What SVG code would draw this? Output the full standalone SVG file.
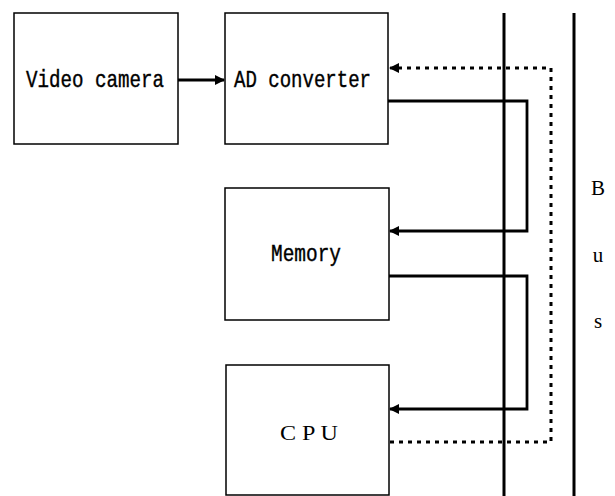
<svg xmlns="http://www.w3.org/2000/svg" width="615" height="496" viewBox="0 0 615 496">
<defs>
<style>
.box{fill:#fff;stroke:#000;stroke-width:1.5}
.lbl{font-family:"Liberation Mono","DejaVu Sans Mono",monospace;font-size:24px;fill:#000;stroke:#000;stroke-width:0.4}
.ser{font-family:"Liberation Serif","DejaVu Serif",serif;fill:#000}
.bus{stroke:#000;stroke-width:3;fill:none}
.con{stroke:#000;stroke-width:2.8;fill:none}
.dot{stroke:#000;stroke-width:3;fill:none;stroke-dasharray:4 5}
</style>
<marker id="ah" viewBox="0 0 10 10" refX="9" refY="5" markerWidth="10" markerHeight="10" markerUnits="userSpaceOnUse" orient="auto">
<path d="M0,0 L10,5 L0,10 z" fill="#000"/>
</marker>
</defs>
<rect width="615" height="496" fill="#fff"/>
<g id="bus">
<line class="bus" x1="504" y1="13" x2="504" y2="496"/>
<line class="bus" x1="574" y1="13" x2="574" y2="496"/>
<text class="ser" font-size="21" x="598" y="195" text-anchor="middle">B</text>
<text class="ser" font-size="21" x="598" y="262" text-anchor="middle">u</text>
<text class="ser" font-size="21" x="598" y="328" text-anchor="middle">s</text>
</g>
<g id="video-camera">
<rect class="box" x="14" y="13" width="164" height="131"/>
<text class="lbl" x="26" y="87" textLength="138" lengthAdjust="spacingAndGlyphs">Video camera</text>
</g>
<g id="ad-converter">
<rect class="box" x="225" y="13" width="163" height="131"/>
<text class="lbl" x="234" y="87" textLength="137" lengthAdjust="spacingAndGlyphs">AD converter</text>
</g>
<g id="memory">
<rect class="box" x="225" y="188" width="164" height="132"/>
<text class="lbl" x="271" y="261" textLength="70" lengthAdjust="spacingAndGlyphs">Memory</text>
</g>
<g id="cpu">
<rect class="box" x="226" y="365" width="163" height="130"/>
<text class="ser" font-size="22" x="280" y="440" textLength="58" lengthAdjust="spacingAndGlyphs">C P U</text>
</g>
<g id="connectors">
<path class="con" d="M178,80 H224" marker-end="url(#ah)"/>
<path class="con" d="M388,101 H527 V231 H390" marker-end="url(#ah)"/>
<path class="con" d="M389,276 H527 V409 H390" marker-end="url(#ah)"/>
<path class="dot" d="M390,442 H551 V68 H394"/>
<path class="con" d="M396,68 H390" marker-end="url(#ah)"/>
</g>
</svg>
